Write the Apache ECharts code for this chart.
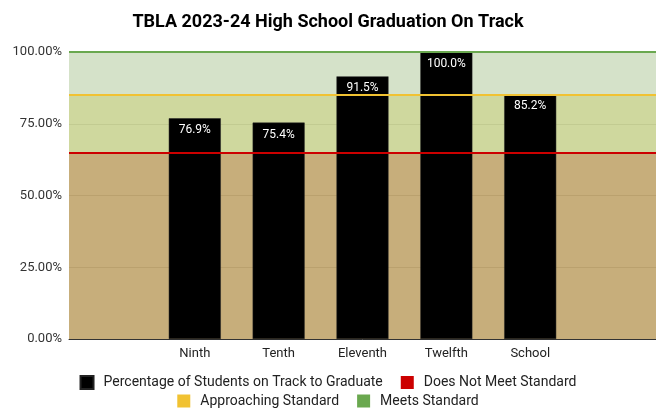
<!DOCTYPE html>
<html>
<head>
<meta charset="utf-8">
<script src="https://cdn.jsdelivr.net/npm/echarts@6/dist/echarts.min.js"></script>
<style>
  html, body { margin: 0; padding: 0; background: #fff; }
  #chart { width: 656px; height: 408px; }
</style>
</head>
<body>
<div id="chart"></div>
<script>
// grades shown, padded with an empty slot on each side like the original sheet
const grades = ["Ninth", "Tenth", "Eleventh", "Twelfth", "School"];
const onTrack = [76.9, 75.4, 91.5, 100.0, 85.2];

// standard cut points (percent)
const bandNames = ["Does Not Meet Standard", "Approaching Standard", "Meets Standard"];
const bandLow = [0, 65, 85];
const bandHigh = [65, 85, 100];
const lineColors = ["#cc0000", "#f1c232", "#6aa84f"];
const fillColors = ["rgba(189,160,100,0.85)", "rgba(199,209,141,0.85)", "rgba(206,221,192,0.85)"];

const yTicks = [0, 25, 50, 75, 100];

const categories = ["", ...grades, ""];
const barData = [null, ...onTrack, null];
const barName = "Percentage of Students on Track to Graduate";

const chart = echarts.init(document.getElementById("chart"));

const series = [
  {
    name: barName,
    type: "bar",
    data: barData,
    barWidth: "62%",
    z: 3,
    itemStyle: { color: "#000", borderColor: "#222", borderWidth: 0.5 },
    label: {
      show: true,
      position: "insideTop",
      distance: 6,
      color: "#fff",
      fontFamily: "Roboto",
      fontSize: 12,
      formatter: (p) => p.value.toFixed(1) + "%",
    },
  },
];

bandNames.forEach((name, i) => {
  series.push({
    name,
    type: "line",
    data: [],
    color: lineColors[i],
    markArea: {
      silent: true,
      z: 1,
      itemStyle: { color: fillColors[i] },
      data: [[{ yAxis: bandLow[i] }, { yAxis: bandHigh[i] }]],
    },
    markLine: {
      silent: true,
      z: 6,
      symbol: "none",
      label: { show: false },
      lineStyle: { color: lineColors[i], width: 2, type: "solid" },
      data: [{ yAxis: bandHigh[i] }],
    },
  });
});

const legendBase = {
  left: "center",
  icon: "rect",
  itemWidth: 13,
  itemHeight: 13,
  itemGap: 18,
  textStyle: { color: "#222", fontSize: 14, padding: [0, 0, 0, 5] },
};

chart.setOption({
  animation: false,
  textStyle: { fontFamily: "Roboto" },
  title: {
    text: "TBLA 2023-24 High School Graduation On Track",
    left: "center",
    top: 8,
    textStyle: { fontFamily: "Roboto", fontSize: 18, fontWeight: "bold", color: "#000" },
  },
  grid: { left: 69, right: 0, top: 52, bottom: 69 },
  xAxis: {
    type: "category",
    data: categories,
    axisTick: { show: false },
    axisLine: { lineStyle: { color: "#333", width: 1 } },
    axisLabel: { color: "#222", fontSize: 13, margin: 8, interval: 0 },
  },
  yAxis: {
    type: "value",
    min: yTicks[0],
    max: yTicks[yTicks.length - 1],
    interval: 25,
    axisLine: { show: false },
    axisTick: { show: false },
    axisLabel: { color: "#333", fontSize: 13, margin: 7, formatter: (v) => v.toFixed(2) + "%" },
    splitLine: { lineStyle: { color: "#aaa" } },
  },
  legend: [
    { ...legendBase, top: 370, data: [barName, bandNames[0]] },
    { ...legendBase, top: 389, data: [bandNames[1], bandNames[2]] },
  ],
  series,
});
</script>
</body>
</html>
